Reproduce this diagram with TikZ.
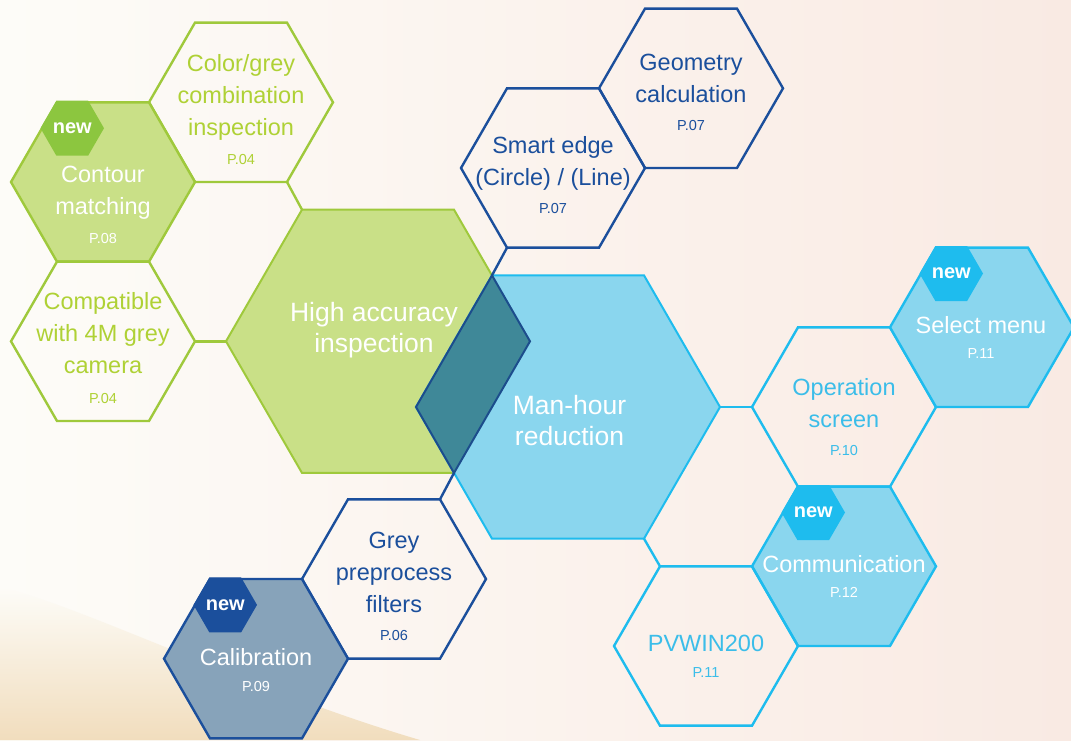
\documentclass[tikz,border=0pt]{standalone}
\usepackage{fontspec}
\setmainfont{Liberation Sans}
\usepackage{tikz}
\usetikzlibrary{shapes.geometric}
\definecolor{grn}{HTML}{9FC93C}
\definecolor{grnText}{HTML}{AFD135}
\definecolor{grnFill}{HTML}{C9E087}
\definecolor{grnNew}{HTML}{8CC63F}
\definecolor{dblue}{HTML}{1B4F9C}
\definecolor{calFill}{HTML}{87A3BA}
\definecolor{lblue}{HTML}{1EBCEE}
\definecolor{lblueText}{HTML}{3BBDE9}
\definecolor{lblueFill}{HTML}{8AD6EE}
\definecolor{overlapFill}{HTML}{3F8898}
\definecolor{overlapLine}{HTML}{1C4D8C}
\definecolor{bgL}{HTML}{FDFCF8}
\definecolor{bgR}{HTML}{F9EAE3}
\definecolor{bgTan}{HTML}{F1DDBD}
\tikzstyle{hex}=[regular polygon, regular polygon sides=6, inner sep=0pt, outer sep=0pt, minimum size=184pt, line width=2.4pt]
\tikzstyle{hexBig}=[hex, minimum size=304pt, line width=2pt]
\tikzstyle{newV}=[regular polygon, regular polygon sides=6, inner sep=0pt, outer sep=0pt, minimum size=59pt, text=white, font=\fontsize{20}{24}\selectfont\bfseries]
\tikzstyle{edgeG}=[draw=grn, line width=2.4pt]
\tikzstyle{edgeB}=[draw=dblue, line width=2.4pt]
\tikzstyle{edgeL}=[draw=lblue, line width=2.4pt]
\tikzstyle{overlapV}=[draw=overlapLine, fill=overlapFill, line width=2pt, line join=miter]
\tikzstyle{ttl}=[align=center, font=\fontsize{23.5}{32}\selectfont, execute at begin node=\strut, execute at end node=\strut]
\tikzstyle{ttlBig}=[ttl, font=\fontsize{26.5}{31}\selectfont]
\tikzstyle{pg}=[anchor=base, inner sep=0pt, font=\fontsize{14.5}{17}\selectfont]
\begin{document}
\begin{tikzpicture}[x=1pt, y=-1pt]
      \useasboundingbox (0,0) rectangle (1071,740);
      \shade[left color=bgL, right color=bgR] (0,0) rectangle (1071,740);
      \shade[top color=bgL, bottom color=bgTan] (0,587) .. controls (80,605) and (250,690) .. (420,740) -- (0,740) -- cycle;
      % small hexagons
      \node(color) [hex, draw=grn] at (241,102.3){};
      \node(contour) [hex, draw=grn, fill=grnFill] at (103,182){};
      \node(compat) [hex, draw=grn] at (103,341.3){};
      \node(smart) [hex, draw=dblue] at (553,168){};
      \node(geom) [hex, draw=dblue] at (691,88.3){};
      \node(grey) [hex, draw=dblue] at (394,579){};
      \node(calib) [hex, draw=dblue, fill=calFill] at (256,658.7){};
      \node(oper) [hex, draw=lblue] at (844,407){};
      \node(select) [hex, draw=lblue, fill=lblueFill] at (982,327.3){};
      \node(comm) [hex, draw=lblue, fill=lblueFill] at (844,566.3){};
      \node(pvwin) [hex, draw=lblue] at (706,646){};
      % big hexagons
      \node(high) [hexBig, draw=grn, fill=grnFill] at (378,341.3){};
      \node(man) [hexBig, draw=lblue, fill=lblueFill] at (568,407){};
      \draw[edgeG] (compat.0) to (high.180);
      \draw[edgeG] (color.300) to (high.120);
      \draw[edgeB] (smart.240) to (man.120);
      \draw[edgeB] (high.300) to (grey.60);
      \draw[edgeL] (man.0) to (oper.180);
      \draw[edgeL] (man.300) to (pvwin.120);
      \draw[overlapV] (man.120) -- (high.0) -- (high.300) -- (man.180) -- cycle;
      % badges
      \node(contour-n) [newV, fill=grnNew] at (72.25,128.2){new};
      \node(select-n) [newV, fill=lblue] at (951.25,273.5){new};
      \node(comm-n) [newV, fill=lblue] at (813.25,512.5){new};
      \node(calib-n) [newV, fill=dblue] at (225.25,604.9){new};
      % texts
      \node(color-t) [ttl, text=grnText] at (241,100){Color/grey\\combination\\inspection};
      \node(color-p) [pg, text=grnText] at (241,164){P.04};
      \node(contour-t) [ttl, text=white] at (103,194.6){Contour\\matching};
      \node(contour-p) [pg, text=white] at (103,243){P.08};
      \node(compat-t) [ttl, text=grnText] at (103,337.6){Compatible\\with 4M grey\\camera};
      \node(compat-p) [pg, text=grnText] at (103,403){P.04};
      \node(high-t) [ttlBig, text=white] at (374,332.3){High accuracy\\inspection};
      \node(man-t) [ttlBig, text=white] at (569.5,425.3){Man-hour\\reduction};
      \node(smart-t) [ttl, text=dblue] at (553,165.6){Smart edge\\(Circle) / (Line)};
      \node(smart-p) [pg, text=dblue] at (553,213){P.07};
      \node(geom-t) [ttl, text=dblue] at (691,82.6){Geometry\\calculation};
      \node(geom-p) [pg, text=dblue] at (691,130){P.07};
      \node(grey-t) [ttl, text=dblue] at (394,576.6){Grey\\preprocess\\filters};
      \node(grey-p) [pg, text=dblue] at (394,640){P.06};
      \node(calib-t) [ttl, text=white] at (256,658.6){Calibration};
      \node(calib-p) [pg, text=white] at (256,691){P.09};
      \node(oper-t) [ttl, text=lblueText] at (844,407.6){Operation\\screen};
      \node(oper-p) [pg, text=lblueText] at (844,455){P.10};
      \node(select-t) [ttl, text=white] at (981,326.6){Select menu};
      \node(select-p) [pg, text=white] at (981,358){P.11};
      \node(comm-t) [ttl, text=white] at (844,565.6){Communication};
      \node(comm-p) [pg, text=white] at (844,597){P.12};
      \node(pvwin-t) [ttl, text=lblueText] at (706,644.6){PVWIN200};
      \node(pvwin-p) [pg, text=lblueText] at (706,677){P.11};
\end{tikzpicture}
\end{document}
